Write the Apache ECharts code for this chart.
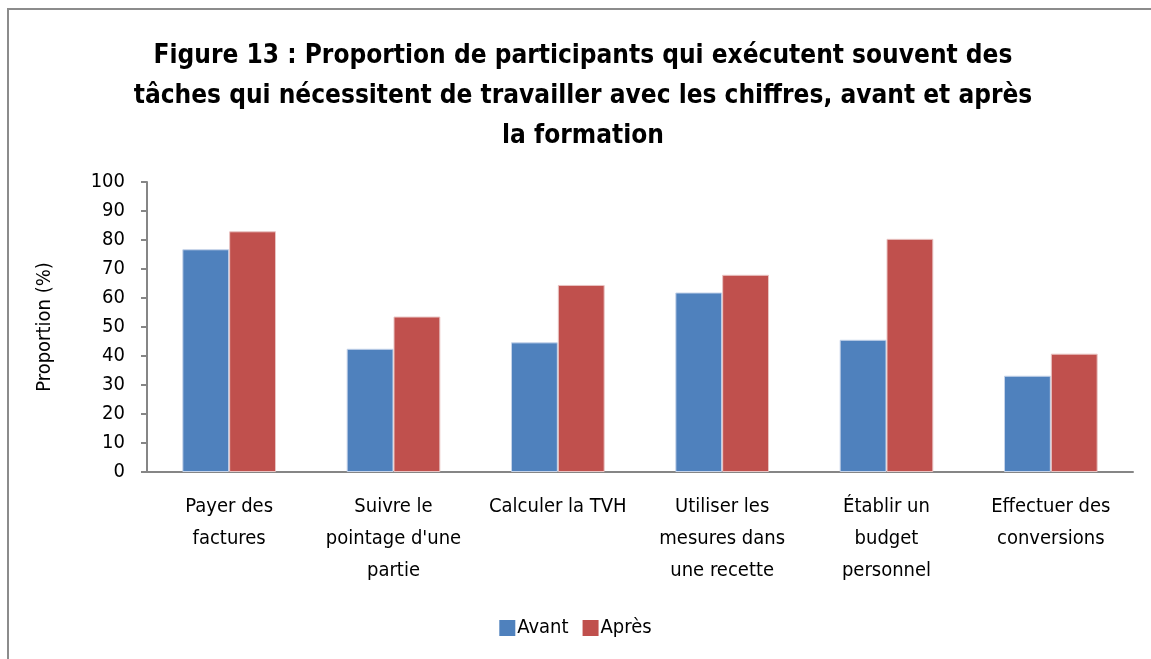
<!DOCTYPE html>
<html>
<head>
<meta charset="utf-8">
<script src="https://cdn.jsdelivr.net/npm/echarts@6/dist/echarts.min.js"></script>
<style>
    html, body { margin: 0; padding: 0; background: #fff; overflow: hidden; }
    #frame {
        position: absolute; left: 7px; top: 8px;
        width: 1160px; height: 700px;
        border: 2px solid #8c8c8c;
        box-sizing: border-box;
    }
    #chart { position: absolute; left: 0; top: 0; width: 1151px; height: 659px; }
</style>
</head>
<body>
<div id="frame"></div>
<div id="chart"></div>
<script>
// Chart data
const categories = [
    'Payer des\nfactures',
    'Suivre le\npointage d\'une\npartie',
    'Calculer la TVH',
    'Utiliser les\nmesures dans\nune recette',
    'Établir un\nbudget\npersonnel',
    'Effectuer des\nconversions'
];
const avant = [76.8, 42.5, 44.7, 61.9, 45.6, 33.2];
const apres = [83.0, 53.6, 64.5, 68.0, 80.4, 40.8];

const fontFamily = '"Liberation Sans Narrow", "DejaVu Sans Condensed", sans-serif';

const chart = echarts.init(document.getElementById('chart'));
chart.setOption({
    animation: false,
    textStyle: { fontFamily: fontFamily },
    title: {
        text: 'Figure 13 : Proportion de participants qui exécutent souvent des\ntâches qui nécessitent de travailler avec les chiffres, avant et après\nla formation',
        left: 578,
        top: 31,
        textAlign: 'center',
        textStyle: {
            fontFamily: fontFamily,
            fontSize: 26,
            fontWeight: 'bold',
            color: '#000',
            lineHeight: 40
        }
    },
    legend: {
        bottom: 16,
        left: 'center',
        itemWidth: 16,
        itemHeight: 16,
        itemGap: 14,
        icon: 'rect',
        itemStyle: { borderWidth: 0 },
        textStyle: { fontSize: 20, color: '#000', padding: [0, 0, 0, -3] },
        data: ['Avant', 'Après']
    },
    grid: { left: 147, right: 18, top: 182, bottom: 187 },
    xAxis: {
        type: 'category',
        data: categories,
        axisLine: { lineStyle: { color: '#868686', width: 2 } },
        axisTick: { show: false },
        axisLabel: {
            interval: 0,
            fontSize: 20,
            color: '#000',
            lineHeight: 32,
            margin: 19
        }
    },
    yAxis: {
        type: 'value',
        min: 0,
        max: 100,
        interval: 10,
        name: 'Proportion (%)',
        nameLocation: 'middle',
        nameGap: 92,
        nameTextStyle: { fontSize: 20, color: '#000' },
        splitLine: { show: false },
        axisLine: { show: true, lineStyle: { color: '#868686', width: 2 } },
        axisTick: { show: true, length: 6, lineStyle: { color: '#868686', width: 2 } },
        axisLabel: { fontSize: 20, color: '#000', margin: 22 }
    },
    series: [
        {
            name: 'Avant',
            type: 'bar',
            data: avant,
            barGap: '0%',
            barCategoryGap: '43%',
            itemStyle: { color: '#4f81bd', borderColor: '#c6d4ea', borderWidth: 1 }
        },
        {
            name: 'Après',
            type: 'bar',
            data: apres,
            barGap: '0%',
            barCategoryGap: '43%',
            itemStyle: { color: '#c0504d', borderColor: '#e9c4c3', borderWidth: 1 }
        }
    ]
});
</script>
</body>
</html>
